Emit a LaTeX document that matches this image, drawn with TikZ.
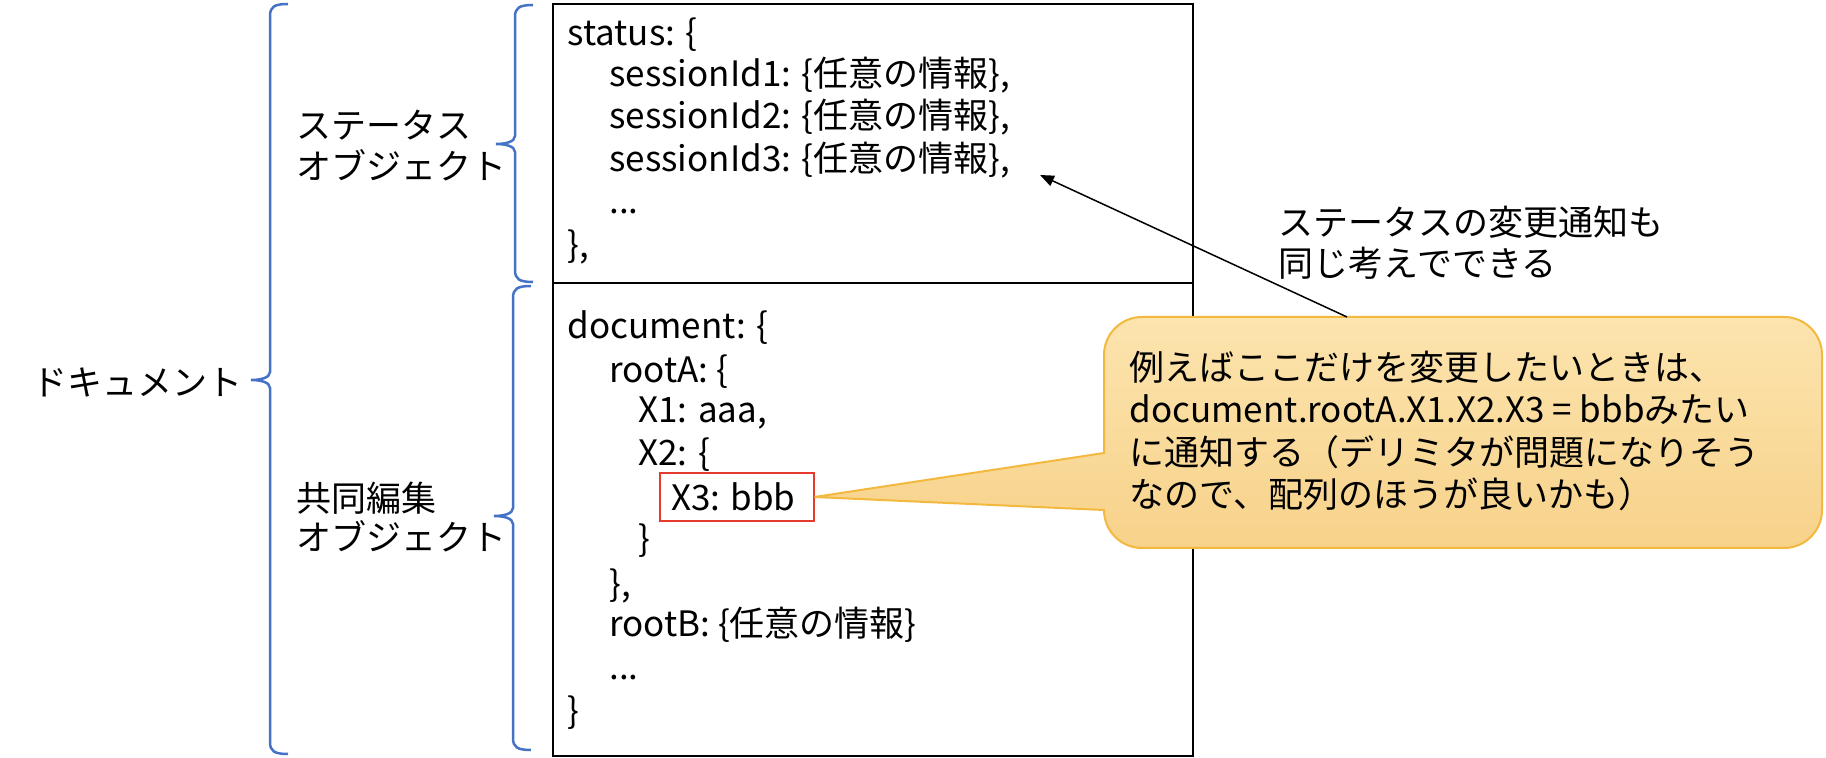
\documentclass[tikz,border=0pt]{standalone}
\usepackage{fontspec}
\setmainfont{Noto Sans CJK JP}
\usepackage{tikz}
\usetikzlibrary{arrows.meta}
\definecolor{braceblue}{HTML}{4472C4}
\definecolor{markred}{HTML}{E53A2C}
\definecolor{calloutline}{HTML}{F3B83E}
\definecolor{calltop}{HTML}{FCE4AE}
\definecolor{callbot}{HTML}{F7D28A}

% office style curly bracket: x, top, tip, bottom
\newcommand{\officebrace}[4]{%
  \draw[bracket] (#1+18,#2) .. controls (#1+4,#2) and (#1,#2+3) .. (#1,#2+12)
    -- (#1,#3-8) .. controls (#1,#3-2) and (#1-10,#3) .. (#1-19,#3)
    .. controls (#1-10,#3) and (#1,#3+2) .. (#1,#3+8)
    -- (#1,#4-12) .. controls (#1,#4-3) and (#1+4,#4) .. (#1+18,#4);}

\begin{document}
\begin{tikzpicture}[x=0.5pt,y=-0.5pt,>=Latex,
    txt/.style={anchor=base west,inner sep=0pt,font=\fontsize{17.5}{21}\selectfont},
    bracket/.style={braceblue,line width=1.25pt},
    callout/.style={draw=calloutline,line width=1pt,top color=calltop,bottom color=callbot},
    markbox/.style={draw=markred,line width=1pt,anchor=west,inner xsep=0pt,minimum height=24pt}]
    \useasboundingbox (0,0) rectangle (1826,758);
    % braces and their labels
    \officebrace{270}{4}{380}{754}
    \officebrace{515}{5}{144}{282}
    \officebrace{513}{286}{516}{750}
    \node[txt] (doclbl) at (32,396) {ドキュメント};
    \node[txt] (stlbl1) at (296,139) {ステータス};
    \node[txt] (stlbl2) at (296,180) {オブジェクト};
    \node[txt] (colbl1) at (296,512) {共同編集};
    \node[txt] (colbl2) at (296,551) {オブジェクト};
    % the json box
    \draw[line width=1.3pt] (553,4) rectangle (1193,756);
    \draw[line width=1.3pt] (553,283) -- (1193,283);
    \node[txt] (st0) at (567,46) {status: \{};
    \node[txt] (st1) at (609,87) {sessionId1: \{任意の情報\},};
    \node[txt] (st2) at (609,129) {sessionId2: \{任意の情報\},};
    \node[txt] (st3) at (609,172) {sessionId3: \{任意の情報\},};
    \node[txt] (st4) at (609,214) {...};
    \node[txt] (st5) at (567,258) {\},};
    \node[txt] (dc0) at (567,339) {document: \{};
    \node[txt] (dc1) at (609,383) {rootA: \{};
    \node[txt] (dc2) at (638,423) {X1: aaa,};
    \node[txt] (dc3) at (638,466) {X2: \{};
    \node[markbox,font=\fontsize{17.5}{21}\selectfont] (x3) at (659,497) {\hspace*{5.5pt}X3: bbb\hspace*{9pt}};
    \node[txt] (dc5) at (638,552) {\}};
    \node[txt] (dc6) at (609,597) {\},};
    \node[txt] (dc7) at (609,637) {rootB: \{任意の情報\}};
    \node[txt] (dc8) at (609,680) {...};
    \node[txt] (dc9) at (567,723) {\}};
    % callout
    \path[callout] (1104,453) -- (x3.east) -- (1104,510)
      -- (1104,548-38) .. controls (1104,548-17) and (1104+17,548) .. (1104+38,548)
      -- (1822-38,548) .. controls (1822-17,548) and (1822,548-17) .. (1822,548-38)
      -- (1822,317+38) .. controls (1822,317+17) and (1822-17,317) .. (1822-38,317)
      -- (1104+38,317) .. controls (1104+17,317) and (1104,317+17) .. (1104,317+38) -- cycle;
    \node[txt] (cl1) at (1129,381) {例えばここだけを変更したいときは、};
    \node[txt] (cl2) at (1129,423) {document.rootA.X1.X2.X3 = bbbみたい};
    \node[txt] (cl3) at (1129,466) {に通知する（デリミタが問題になりそう};
    \node[txt] (cl4) at (1129,508) {なので、配列のほうが良いかも）};
    % note and arrow
    \node[txt] (nt1) at (1278,236) {ステータスの変更通知も};
    \node[txt] (nt2) at (1278,277) {同じ考えでできる};
    \coordinate (calltop) at (1347,317);
    \coordinate (notetip) at (1040,175);
    \draw[-{Triangle[length=7pt,width=5.5pt]},line width=0.75pt] (calltop) -- (notetip);
\end{tikzpicture}
\end{document}
